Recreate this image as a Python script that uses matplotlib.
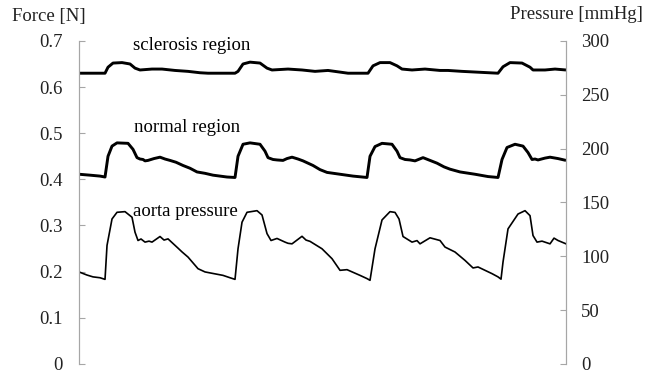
import matplotlib.pyplot as plt

plt.rcParams['font.family'] = ['Liberation Serif', 'DejaVu Serif']

# time axis is unlabeled in the original, positions read off the picture
# sclerosis region force [N]
t_scl = [0.00, 0.26, 0.29, 0.34, 0.43, 0.51, 0.56, 0.61, 0.73, 0.83, 0.96, 1.09, 1.21,
         1.29, 1.56, 1.59, 1.64, 1.71, 1.81, 1.88, 1.93, 2.09, 2.23, 2.36, 2.49, 2.69,
         2.89, 2.94, 3.01, 3.11, 3.18, 3.23, 3.33, 3.46, 3.61, 3.69, 3.83, 4.19, 4.24,
         4.31, 4.43, 4.51, 4.54, 4.66, 4.76, 4.87]
f_scl = [0.630, 0.630, 0.643, 0.652, 0.653, 0.650, 0.641, 0.637, 0.639, 0.639, 0.636,
         0.634, 0.631, 0.630, 0.630, 0.634, 0.650, 0.654, 0.652, 0.641, 0.637, 0.639,
         0.637, 0.634, 0.636, 0.630, 0.630, 0.646, 0.653, 0.653, 0.646, 0.639, 0.637,
         0.639, 0.636, 0.636, 0.634, 0.630, 0.644, 0.653, 0.652, 0.643, 0.637, 0.637,
         0.639, 0.637]

# normal region force [N]
t_nor = [0.00, 0.11, 0.21, 0.26, 0.29, 0.33, 0.38, 0.49, 0.54, 0.58, 0.61, 0.64, 0.66,
         0.69, 0.75, 0.81, 0.86, 0.91, 0.97, 1.04, 1.11, 1.18, 1.26, 1.34, 1.48, 1.56,
         1.59, 1.64, 1.71, 1.81, 1.86, 1.89, 1.94, 1.98, 2.04, 2.08, 2.13, 2.19, 2.24,
         2.34, 2.41, 2.48, 2.61, 2.74, 2.88, 2.91, 2.96, 3.03, 3.13, 3.18, 3.21, 3.26,
         3.31, 3.36, 3.44, 3.58, 3.65, 3.71, 3.81, 3.96, 4.09, 4.19, 4.23, 4.28, 4.36,
         4.44, 4.49, 4.53, 4.56, 4.59, 4.66, 4.71, 4.79, 4.87]
f_nor = [0.411, 0.409, 0.407, 0.405, 0.450, 0.472, 0.479, 0.478, 0.465, 0.447, 0.444,
         0.443, 0.440, 0.441, 0.445, 0.448, 0.444, 0.441, 0.437, 0.430, 0.424, 0.416,
         0.413, 0.409, 0.405, 0.404, 0.450, 0.476, 0.479, 0.476, 0.461, 0.447, 0.443,
         0.442, 0.441, 0.445, 0.448, 0.444, 0.440, 0.430, 0.421, 0.415, 0.411, 0.407,
         0.404, 0.450, 0.471, 0.478, 0.476, 0.461, 0.447, 0.443, 0.442, 0.440, 0.447,
         0.435, 0.427, 0.422, 0.416, 0.411, 0.406, 0.404, 0.443, 0.469, 0.476, 0.472,
         0.458, 0.443, 0.444, 0.442, 0.446, 0.448, 0.445, 0.441]

# aorta pressure [mmHg]
t_ao = [0.00, 0.08, 0.14, 0.21, 0.26, 0.28, 0.33, 0.38, 0.46, 0.53, 0.56, 0.59, 0.62,
        0.66, 0.70, 0.73, 0.81, 0.85, 0.89, 0.99, 1.03, 1.09, 1.19, 1.26, 1.31, 1.44,
        1.51, 1.56, 1.59, 1.63, 1.68, 1.78, 1.83, 1.88, 1.92, 1.98, 2.06, 2.09, 2.13,
        2.23, 2.27, 2.31, 2.43, 2.53, 2.61, 2.68, 2.81, 2.88, 2.91, 2.96, 3.03, 3.11,
        3.16, 3.20, 3.24, 3.33, 3.38, 3.41, 3.51, 3.61, 3.66, 3.76, 3.86, 3.94, 3.99,
        4.13, 4.19, 4.22, 4.24, 4.29, 4.39, 4.46, 4.51, 4.54, 4.58, 4.63, 4.71, 4.75,
        4.79, 4.87]
p_ao = [85.4, 82.5, 80.8, 80.0, 78.5, 110.0, 134.6, 140.8, 141.4, 136.2, 122.3, 114.6,
        116.0, 113.1, 114.0, 113.1, 118.3, 115.0, 116.1, 107.5, 104.0, 99.2, 88.4, 85.4,
        84.5, 82.2, 80.0, 78.5, 106.9, 131.6, 140.8, 142.3, 138.3, 121.0, 114.6, 116.5,
        113.1, 112.0, 111.5, 118.5, 115.0, 113.8, 106.9, 97.7, 86.9, 87.5, 82.2, 79.2,
        77.6, 106.9, 133.7, 141.4, 140.7, 134.6, 118.3, 113.1, 114.5, 111.5, 117.1,
        114.6, 108.5, 103.9, 96.1, 89.1, 90.0, 83.8, 80.8, 78.7, 94.6, 125.4, 139.2,
        142.3, 137.7, 119.2, 113.1, 114.0, 111.5, 116.8, 114.6, 111.5]

force_ticks = [0, 0.1, 0.2, 0.3, 0.4, 0.5, 0.6, 0.7]
force_labels = ['0', '0.1', '0.2', '0.3', '0.4', '0.5', '0.6', '0.7']
press_ticks = [0, 50, 100, 150, 200, 250, 300]

fig = plt.figure(figsize=(6.59, 3.73), dpi=100)
ax = fig.add_axes([0.1199, 0.0245, 0.7390, 0.8658])
ax2 = ax.twinx()

ax.plot(t_scl, f_scl, color='black', lw=2.1, solid_capstyle='butt')
ax.plot(t_nor, f_nor, color='black', lw=2.1, solid_capstyle='butt')
ax2.plot(t_ao, p_ao, color='black', lw=1.2)

ax.set_xlim(0, 4.87)
ax.set_ylim(0, 0.7)
ax2.set_ylim(0, 300)

gray = '#a6a6a6'
for a in (ax, ax2):
    for s in ('top', 'bottom'):
        a.spines[s].set_visible(False)
    a.spines['left'].set_color(gray)
    a.spines['right'].set_color(gray)
    a.set_xticks([])

fs = 13.5
ax.set_yticks(force_ticks)
ax.set_yticklabels(force_labels)
ax.tick_params(axis='y', direction='in', length=4, color=gray, pad=11.5,
               labelsize=fs, labelcolor='#222222')
ax2.set_yticks(press_ticks)
ax2.tick_params(axis='y', direction='in', length=4, color=gray, pad=11,
                labelsize=fs, labelcolor='#222222')

ax.text(0.54, 0.691, 'sclerosis region', fontsize=fs, ha='left', va='center')
ax.text(0.55, 0.512, 'normal region', fontsize=fs, ha='left', va='center')
ax.text(0.54, 0.331, 'aorta pressure', fontsize=fs, ha='left', va='center')

fig.text(0.018, 0.955, 'Force [N]', fontsize=fs, ha='left', va='center', color='#222222')
fig.text(0.976, 0.960, 'Pressure [mmHg]', fontsize=fs, ha='right', va='center', color='#222222')

fig.savefig('out.png', dpi=100)
